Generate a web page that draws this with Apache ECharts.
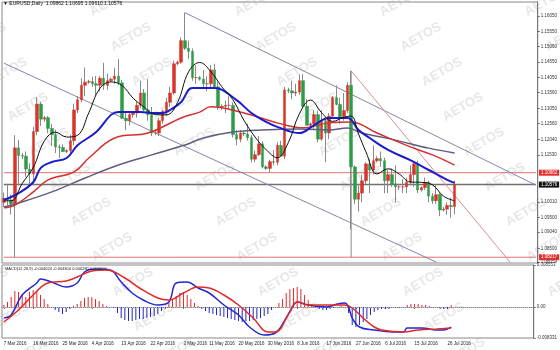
<!DOCTYPE html>
<html><head><meta charset="utf-8">
<script src="https://cdn.jsdelivr.net/npm/echarts@6/dist/echarts.min.js"></script>
<style>html,body{margin:0;padding:0;background:#fff}#c{width:560px;height:350px}</style>
</head><body><div id="c"></div>
<script>
const opens = [1.1000,1.1013,1.1008,1.0995,1.1177,1.1152,1.1150,1.1108,1.1092,1.1230,1.1319,1.1270,1.1275,1.1240,1.1220,1.1180,1.1178,1.1165,1.1168,1.1200,1.1300,1.1333,1.1380,1.1390,1.1392,1.1385,1.1380,1.1403,1.1380,1.1395,1.1400,1.1410,1.1388,1.1273,1.1265,1.1285,1.1290,1.1315,1.1355,1.1300,1.1285,1.1225,1.1225,1.1265,1.1295,1.1325,1.1355,1.1450,1.1455,1.1525,1.1500,1.1490,1.1405,1.1405,1.1400,1.1385,1.1385,1.1430,1.1375,1.1310,1.1312,1.1315,1.1315,1.1220,1.1205,1.1225,1.1222,1.1210,1.1140,1.1155,1.1190,1.1115,1.1110,1.1132,1.1130,1.1185,1.1150,1.1365,1.1362,1.1355,1.1358,1.1395,1.1312,1.1250,1.1255,1.1285,1.1205,1.1265,1.1225,1.1280,1.1340,1.1318,1.1278,1.1298,1.1380,1.1115,1.1010,1.1030,1.1070,1.1125,1.1105,1.1135,1.1142,1.1135,1.1070,1.1090,1.1060,1.1050,1.1050,1.1050,1.1065,1.1090,1.1125,1.1040,1.1048,1.1065,1.1020,1.1005,1.1025,1.0975,1.0978,1.0990,1.0986];
const highs = [1.1032,1.1058,1.1025,1.1218,1.1203,1.1160,1.1165,1.1127,1.1245,1.1342,1.1327,1.1280,1.1280,1.1254,1.1236,1.1188,1.1188,1.1172,1.1220,1.1320,1.1345,1.1403,1.1438,1.1398,1.1408,1.1410,1.1410,1.1453,1.1418,1.1405,1.1437,1.1465,1.1398,1.1297,1.1295,1.1295,1.1326,1.1395,1.1368,1.1400,1.1310,1.1232,1.1275,1.1300,1.1340,1.1375,1.1460,1.1460,1.1535,1.1616,1.1525,1.1500,1.1445,1.1410,1.1430,1.1410,1.1445,1.1450,1.1390,1.1318,1.1330,1.1345,1.1325,1.1235,1.1235,1.1230,1.1255,1.1218,1.1168,1.1215,1.1198,1.1120,1.1138,1.1170,1.1195,1.1200,1.1375,1.1372,1.1395,1.1385,1.1415,1.1416,1.1335,1.1260,1.1300,1.1298,1.1300,1.1275,1.1290,1.1345,1.1380,1.1340,1.1355,1.1390,1.1427,1.1120,1.1060,1.1090,1.1130,1.1140,1.1185,1.1150,1.1165,1.1145,1.1105,1.1110,1.1120,1.1060,1.1075,1.1080,1.1120,1.1130,1.1135,1.1052,1.1080,1.1070,1.1030,1.1055,1.1030,1.0985,1.1000,1.1015,1.1070];
const lows = [1.0985,1.0990,1.0960,1.0822,1.1055,1.1140,1.1083,1.1058,1.1055,1.1218,1.1248,1.1262,1.1225,1.1183,1.1160,1.1144,1.1163,1.1160,1.1160,1.1185,1.1290,1.1325,1.1345,1.1385,1.1375,1.1346,1.1360,1.1365,1.1365,1.1390,1.1385,1.1380,1.1270,1.1234,1.1250,1.1275,1.1275,1.1305,1.1295,1.1265,1.1215,1.1218,1.1215,1.1255,1.1280,1.1310,1.1350,1.1445,1.1450,1.1495,1.1465,1.1395,1.1385,1.1395,1.1375,1.1360,1.1370,1.1370,1.1300,1.1300,1.1290,1.1305,1.1210,1.1185,1.1195,1.1215,1.1200,1.1130,1.1130,1.1150,1.1110,1.1105,1.1097,1.1120,1.1120,1.1150,1.1140,1.1355,1.1335,1.1345,1.1350,1.1305,1.1250,1.1240,1.1235,1.1195,1.1200,1.1130,1.1205,1.1275,1.1315,1.1255,1.1265,1.1290,1.0912,1.0995,1.0970,1.1000,1.1060,1.1030,1.1090,1.1130,1.1115,1.1030,1.1030,1.1050,1.1000,1.1040,1.1030,1.1030,1.1055,1.1050,1.1030,1.1035,1.1040,1.1000,1.0995,1.0995,1.0955,1.0970,1.0960,1.0950,1.0961];
const closes = [1.1013,1.1008,1.0995,1.1177,1.1152,1.1150,1.1108,1.1092,1.1230,1.1319,1.1270,1.1275,1.1240,1.1220,1.1180,1.1178,1.1165,1.1168,1.1200,1.1300,1.1333,1.1380,1.1390,1.1392,1.1385,1.1380,1.1403,1.1380,1.1395,1.1400,1.1410,1.1388,1.1273,1.1265,1.1285,1.1290,1.1315,1.1355,1.1300,1.1285,1.1225,1.1225,1.1265,1.1295,1.1325,1.1355,1.1450,1.1455,1.1525,1.1500,1.1490,1.1405,1.1405,1.1400,1.1385,1.1385,1.1430,1.1375,1.1310,1.1312,1.1315,1.1315,1.1220,1.1205,1.1225,1.1222,1.1210,1.1140,1.1155,1.1190,1.1115,1.1110,1.1132,1.1130,1.1185,1.1150,1.1365,1.1362,1.1355,1.1358,1.1395,1.1312,1.1250,1.1255,1.1285,1.1205,1.1265,1.1225,1.1280,1.1340,1.1318,1.1278,1.1298,1.1380,1.1115,1.1010,1.1030,1.1070,1.1125,1.1105,1.1135,1.1142,1.1135,1.1070,1.1090,1.1060,1.1050,1.1050,1.1050,1.1065,1.1090,1.1125,1.1040,1.1048,1.1065,1.1020,1.1005,1.1025,1.0975,1.0978,1.0990,1.0986,1.1058];

// moving averages: [bar index, price]
const maBlack = [[0,1.1005],[2,1.1005],[5,1.1062],[8,1.1114],[11,1.1200],[14,1.1228],[17,1.1212],[20,1.1218],[23,1.1291],[26,1.1370],[29,1.1391],[32,1.1379],[35,1.1338],[38,1.1309],[41,1.1285],[44,1.1284],[47,1.1324],[50,1.1424],[53,1.1454],[56,1.1425],[59,1.1375],[62,1.1333],[65,1.1266],[68,1.1212],[71,1.1171],[74,1.1145],[77,1.1194],[80,1.1288],[83,1.1332],[86,1.1291],[89,1.1263],[92,1.1276],[94,1.1280],[96,1.1222],[98,1.1164],[101,1.1092],[104,1.1109],[107,1.1092],[110,1.1066],[113,1.1065],[116,1.1057],[119,1.1020],[122,1.1005]];
const maBlue = [[0,1.1008],[4,1.1030],[8,1.1066],[10,1.1112],[13,1.1131],[17,1.1144],[20,1.1186],[25,1.1228],[29,1.1284],[31,1.1293],[37,1.1293],[40,1.1290],[43,1.1290],[45,1.1300],[48,1.1326],[51,1.1371],[57,1.1371],[63,1.1332],[67,1.1290],[71,1.1261],[74,1.1245],[80,1.1225],[84,1.1251],[88,1.1274],[93,1.1274],[96,1.1235],[99,1.1209],[104,1.1170],[110,1.1137],[115,1.1105],[120,1.1073],[122,1.1063]];
const maRed = [[0,1.0982],[3,1.0991],[8,1.1034],[12,1.1073],[19,1.1099],[23,1.1144],[30,1.1209],[39,1.1225],[48,1.1274],[53,1.1293],[56,1.1310],[65,1.1290],[74,1.1258],[81,1.1242],[88,1.1258],[94,1.1261],[101,1.1225],[110,1.1180],[116,1.1154],[122,1.1121]];
const maGray = [[0,1.0985],[4,1.0998],[13,1.1034],[22,1.1079],[31,1.1121],[40,1.1154],[49,1.1186],[54,1.1209],[62,1.1228],[70,1.1235],[80,1.1238],[88,1.1235],[93,1.1241],[97,1.1225],[106,1.1202],[115,1.1176],[122,1.1160]];

// MACD pane
const macdHist = [0.0004,0.001,0.002,0.0032,0.003,0.0026,0.002,0.003,0.0034,0.0032,0.0024,0.0016,0.0006,0,-0.0006,-0.001,-0.0014,-0.001,-0.0004,0.0002,0.0006,0.0012,0.0018,0.002,0.002,0.0016,0.0012,0.0006,0.0002,0,-0.0002,-0.0012,-0.0022,-0.0026,-0.0028,-0.0028,-0.0026,-0.0024,-0.0024,-0.0022,-0.002,-0.0018,-0.0014,-0.0008,-0.0004,0.0008,0.0016,0.0022,0.0028,0.003,0.0024,0.0016,0.0008,0.0002,-0.0004,-0.0008,-0.0012,-0.0014,-0.0016,-0.0018,-0.002,-0.0022,-0.0024,-0.0026,-0.0028,-0.003,-0.0028,-0.0028,-0.0026,-0.0024,-0.0022,-0.0018,-0.0014,-0.0006,0,0.0008,0.0016,0.0028,0.0036,0.0038,0.004,0.0036,0.0024,0.0014,0.0006,0.0002,-0.0004,-0.0006,-0.0006,-0.0004,-0.0002,0,0.0002,0,-0.0012,-0.0036,-0.004,-0.0036,-0.003,-0.0024,-0.0016,-0.001,-0.0006,-0.0004,-0.0004,-0.0004,-0.0002,-0.0002,-0.0002,0,0.0004,0.0006,0.0006,0.0006,0.0004,0.0004,0.0002,0,-0.0002,-0.0004,-0.0004,-0.0004,0.0004];
const macdMain = [[0,-0.0022],[2,-0.0016],[5,0.0024],[9,0.0048],[10,0.0056],[13,0.0050],[17,0.0040],[20,0.0048],[22,0.0070],[25,0.0076],[29,0.0074],[32,0.0050],[35,0.0028],[38,0.0014],[42,0.0004],[45,0.0010],[47,0.0048],[50,0.0050],[53,0.0038],[56,0.0028],[60,0.0004],[64,-0.0016],[67,-0.0040],[71,-0.0056],[74,-0.0052],[77,-0.0022],[79,0.0004],[80,0.0010],[83,0.0004],[88,0.0000],[91,0.0006],[93,0.0008],[94,0.0000],[95,-0.0022],[97,-0.0040],[101,-0.0046],[106,-0.0050],[109,-0.0050],[110,-0.0042],[114,-0.0042],[118,-0.0046],[120,-0.0046],[122,-0.0040]];
const macdSignal = [[0,-0.0030],[4,-0.0006],[8,0.0024],[12,0.0048],[17,0.0052],[20,0.0060],[24,0.0072],[28,0.0074],[33,0.0058],[37,0.0038],[42,0.0018],[45,0.0014],[49,0.0028],[53,0.0040],[56,0.0038],[60,0.0024],[64,0.0004],[68,-0.0022],[72,-0.0050],[74,-0.0050],[78,-0.0010],[80,0.0010],[83,0.0004],[88,0.0004],[93,0.0004],[95,-0.0002],[98,-0.0022],[101,-0.0040],[103,-0.0046],[109,-0.0050],[113,-0.0046],[118,-0.0044],[122,-0.0042]];

// tick labels
const priceTicks = [1.16050,1.15550,1.15060,1.14550,1.14050,1.13560,1.13050,1.12560,1.12040,1.11530,1.10010,1.09500,1.09040,1.08500,1.08059];
const macdTickValues = [0.0084, 0, -0.0062];
const macdTickLabels = ['0.008553','0.00','-0.008331'];
const xTickLabels = ['7 Mar 2016','16 Mar 2016','25 Mar 2016','4 Apr 2016','13 Apr 2016','22 Apr 2016','3 May 2016','11 May 2016','20 May 2016','30 May 2016','8 Jun 2016','17 Jun 2016','27 Jun 2016','6 Jul 2016','15 Jul 2016','26 Jul 2016'];
const levelRedTop = 1.10962;
const levelBid = 1.10576;
const levelRedLow = 1.08217;
// drawn objects: [bar index, price]
const channelUpper = [[49,1.1616],[144,1.1056]];
const channelLower = [[0,1.1452],[117,1.0806]];
const trendRed = [[94,1.1427],[137,1.0806]];
const brexitMarker = [[94,1.1427],[94,1.08217]];
const headerText = '\u25BC EURUSD,Daily  1.09862 1.10695 1.09610 1.10576';
const macdHeader = 'MACD(12,26,9) -0.004024 -0.004304 0.000280 0.000000';

// calendar (MT4 feed with Sunday bars)
const months = ['Jan','Feb','Mar','Apr','May','Jun','Jul','Aug'];
const dates = [];
for (let d = new Date(2016,2,7); d <= new Date(2016,6,27); d.setDate(d.getDate()+1)) {
  if (d.getDay() === 6) continue;
  dates.push(d.getDate()+' '+months[d.getMonth()]+' 2016');
}
const cats = dates.slice();
while (cats.length < 145) cats.push('pad'+cats.length);
const lastCat = cats.length - 1;

const wickData = opens.map((o,i)=>[o, closes[i], lows[i], highs[i]]);
const bodyData = opens.map((o,i)=>[o, closes[i], Math.min(o,closes[i]), Math.max(o,closes[i])]);

const chart = echarts.init(document.getElementById('c'), null, {renderer:'canvas'});
const FONT = 'Liberation Sans';
const wm = [];
for (let c = -1; c <= 4; c++) {
  for (let k = -3; k <= 12; k++) {
    const x = -14 + 145*c + 21*k, y = 37 + 35*k;
    if (x < -40 || x > 600 || y < -20 || y > 370) continue;
    wm.push({type:'text', x:x, y:y, rotation:Math.PI/6, silent:true, z:0,
      style:{text:'AETOS', fill:'rgba(170,170,170,0.28)', font:'bold 13px '+FONT, align:'center', verticalAlign:'middle'}});
  }
}
const trend = (pts, color) => ({type:'line', xAxisIndex:0, yAxisIndex:0, data:pts, showSymbol:false, silent:true, z:2,
  lineStyle:{color:color, width:1}});
const level = (v, lineColor, bg, w) => ({
  type:'line', xAxisIndex:0, yAxisIndex:0, data:[[0,v],[lastCat,v]], showSymbol:false, silent:true, z:2,
  lineStyle:{color:lineColor, width:w},
  endLabel:{show:true, formatter:()=>v.toFixed(5), backgroundColor:bg, color:'#ffffff', fontSize:4.5, fontFamily:FONT, padding:[1,2,0,2], distance:3}
});

chart.setOption({
  animation:false,
  backgroundColor:'#fff',
  title:[
    {text:headerText, left:3, top:1, padding:0, textStyle:{fontSize:5, color:'#111', fontWeight:'normal', fontFamily:FONT}},
    {text:macdHeader, left:5, top:267, padding:0, textStyle:{fontSize:4, color:'#111', fontWeight:'normal', fontFamily:FONT}}
  ],
  graphic: wm,
  grid:[
    {left:2, right:21, top:2, height:261, show:true, borderColor:'#888', borderWidth:1, backgroundColor:'transparent'},
    {left:2, right:21, top:265, height:73, show:true, borderColor:'#888', borderWidth:1, backgroundColor:'transparent'}
  ],
  xAxis:[
    {type:'category', gridIndex:0, data:cats, boundaryGap:true, axisLine:{show:false}, axisTick:{show:false}, axisLabel:{show:false}, splitLine:{show:false}},
    {type:'category', gridIndex:1, data:cats, boundaryGap:true, axisLine:{show:true, lineStyle:{color:'#888'}},
      axisTick:{show:true, length:2, alignWithLabel:true, interval:(i,v)=>xTickLabels.indexOf(v)>=0, lineStyle:{color:'#666'}},
      axisLabel:{show:true, interval:(i,v)=>xTickLabels.indexOf(v)>=0, fontSize:4.5, color:'#222', fontFamily:FONT, align:'left', margin:3, hideOverlap:false},
      splitLine:{show:false}}
  ],
  yAxis:[
    {type:'value', gridIndex:0, position:'right', min:1.0803, max:1.16505, splitLine:{show:false},
      axisLine:{show:true, lineStyle:{color:'#777'}},
      axisTick:{show:true, length:2, customValues:priceTicks, lineStyle:{color:'#666'}},
      axisLabel:{customValues:priceTicks, formatter:v=>v.toFixed(5), fontSize:4.5, color:'#333', fontFamily:FONT, margin:3}},
    {type:'value', gridIndex:1, position:'right', min:-0.0062, max:0.0084, splitLine:{show:false},
      axisLine:{show:true, lineStyle:{color:'#777'}},
      axisTick:{show:true, length:2, customValues:macdTickValues, lineStyle:{color:'#666'}},
      axisLabel:{customValues:macdTickValues, formatter:v=>{const k=macdTickValues.indexOf(v); return k>=0?macdTickLabels[k]:'';}, fontSize:4.5, color:'#333', fontFamily:FONT, margin:3}}
  ],
  series:[
    level(levelRedTop, '#e07070', '#e03030', 1),
    level(levelBid, '#707070', '#111111', 1.5),
    level(levelRedLow, '#e07070', '#e03030', 1),
    trend(channelUpper, '#8585a8'),
    trend(channelLower, '#8585a8'),
    trend(trendRed, '#d49090'),
    trend(brexitMarker, '#8a8a8a'),
    {type:'candlestick', name:'wick', xAxisIndex:0, yAxisIndex:0, data:wickData, barWidth:1, z:3,
      itemStyle:{color:'#8a8a8a', color0:'#8a8a8a', borderColor:'#8a8a8a', borderColor0:'#8a8a8a', borderWidth:1}},
    {type:'candlestick', name:'body', xAxisIndex:0, yAxisIndex:0, data:bodyData, barWidth:3, z:4,
      itemStyle:{color:'#d8352a', color0:'#2e9b47', borderColor:'#d8352a', borderColor0:'#2e9b47', borderWidth:0.5}},
    {type:'line', name:'MA gray', xAxisIndex:0, yAxisIndex:0, data:maGray, showSymbol:false, smooth:0.4, z:5, lineStyle:{color:'#5e5e80', width:1.5}},
    {type:'line', name:'MA red', xAxisIndex:0, yAxisIndex:0, data:maRed, showSymbol:false, smooth:0.4, z:5, lineStyle:{color:'#d33030', width:1.5}},
    {type:'line', name:'MA blue', xAxisIndex:0, yAxisIndex:0, data:maBlue, showSymbol:false, smooth:0.4, z:6, lineStyle:{color:'#1c1ccc', width:2}},
    {type:'line', name:'MA black', xAxisIndex:0, yAxisIndex:0, data:maBlack, showSymbol:false, smooth:0.4, z:7, lineStyle:{color:'#111', width:1}},
    {type:'bar', name:'hist', xAxisIndex:1, yAxisIndex:1, data:macdHist, barWidth:1, z:3,
      itemStyle:{color:p=>p.value>=0?'#e02a2a':'#2424c8'},
      markLine:{silent:true, symbol:['none','none'], label:{show:false}, data:[{yAxis:0, lineStyle:{color:'#bbb', type:'dotted', width:1}}]}},
    {type:'line', name:'MACD', xAxisIndex:1, yAxisIndex:1, data:macdMain, showSymbol:false, smooth:0.4, z:5, lineStyle:{color:'#2626d0', width:1.5}},
    {type:'line', name:'Signal', xAxisIndex:1, yAxisIndex:1, data:macdSignal, showSymbol:false, smooth:0.4, z:5, lineStyle:{color:'#e02a2a', width:1.5}}
  ]
});
</script></body></html>
